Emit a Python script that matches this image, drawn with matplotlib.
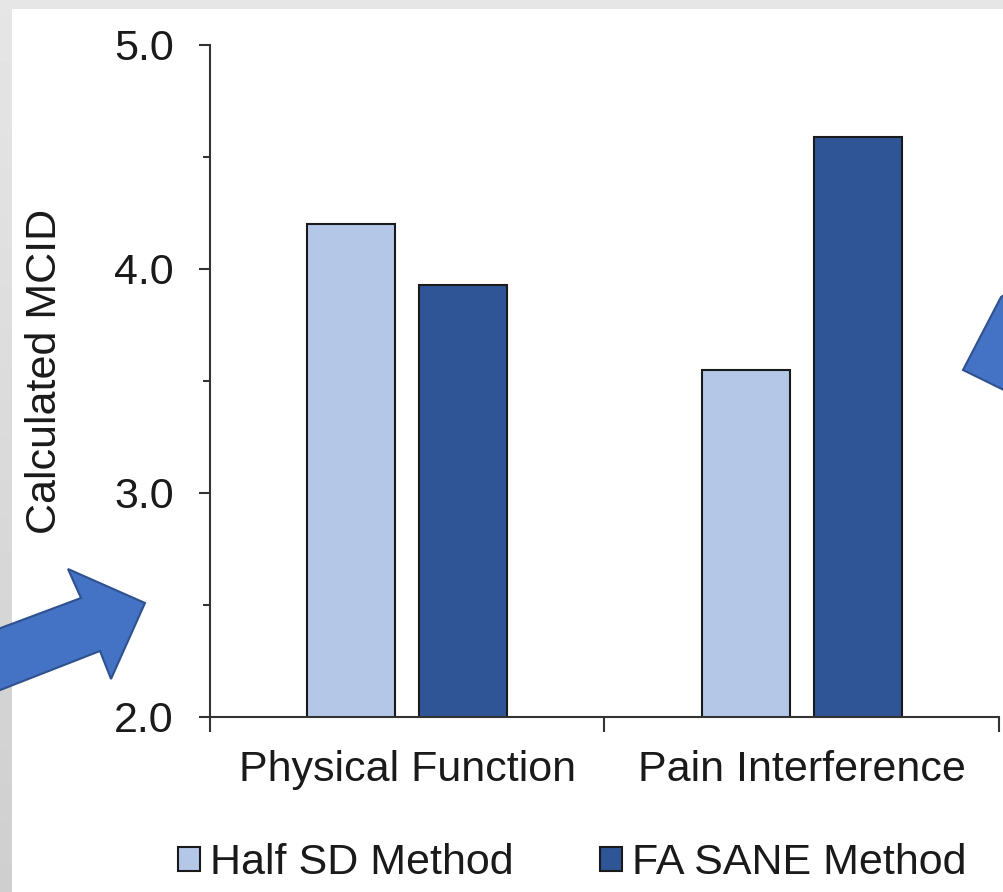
import numpy as np
import matplotlib
matplotlib.use("Agg")
import matplotlib.pyplot as plt
from matplotlib.patches import Polygon, Rectangle

plt.rcParams['font.family'] = ['Liberation Sans', 'DejaVu Sans']

# data
categories = ["Physical Function", "Pain Interference"]
series = ["Half SD Method", "FA SANE Method"]
half_sd = [4.20, 3.55]
fa_sane = [3.93, 4.59]
colors = ["#b4c7e7", "#2f5597"]

W, H = 1004, 892
FS = 31
fig = plt.figure(figsize=(W / 100, H / 100), dpi=100)
fig.patch.set_facecolor("#e6e6e6")

# white slide area + shaded left strip
fig.patches.append(Rectangle((12 / W, 0), 1 - 12 / W, 1 - 9 / H,
                             transform=fig.transFigure, facecolor="white",
                             edgecolor="none", zorder=0))
strip = fig.add_axes([0, 0, 12 / W, 1], zorder=0)
grad = np.linspace(0.90, 0.81, 100).reshape(-1, 1)
strip.imshow(grad, cmap="gray", vmin=0, vmax=1, aspect="auto")
strip.axis("off")

ax = fig.add_axes([210 / W, 175 / H, 789 / W, 672 / H], zorder=2)
ax.patch.set_alpha(0)

x = np.arange(len(categories)) + 0.5
off, bw = 0.142, 0.223
ax.bar(x - off, half_sd, bw, bottom=0, color=colors[0], edgecolor="#1a1a1a",
       linewidth=1.5, label=series[0])
ax.bar(x + off, fa_sane, bw, bottom=0, color=colors[1], edgecolor="#1a1a1a",
       linewidth=1.5, label=series[1])

ax.set_xlim(0, 2)
ax.set_ylim(2.0, 5.0)
ax.set_yticks([2.0, 3.0, 4.0, 5.0])
ax.set_yticklabels(["2.0", "3.0", "4.0", "5.0"])
ax.set_yticks([2.5, 3.5, 4.5], minor=True)
ax.set_xticks([0, 1, 2])
ax.set_xticklabels([])
ax.set_xticks(x, minor=True)
ax.set_xticklabels(categories, minor=True)

for s in ["top", "right"]:
    ax.spines[s].set_visible(False)
for s in ["left", "bottom"]:
    ax.spines[s].set_color("#333333")
    ax.spines[s].set_linewidth(1.5)

ax.tick_params(axis="y", which="major", length=8, width=1.5, color="#333333",
               labelsize=FS, pad=18, labelcolor="#1a1a1a")
ax.tick_params(axis="y", which="minor", length=5, width=1.5, color="#333333")
ax.tick_params(axis="x", which="major", length=11, width=1.5, color="#333333")
ax.tick_params(axis="x", which="minor", length=0, labelsize=FS, pad=24,
               labelcolor="#1a1a1a")

ax.set_ylabel("Calculated MCID", fontsize=FS, color="#1a1a1a")
ax.yaxis.set_label_coords(-145 / 789, (892 - 371 - 175) / 672)

leg = fig.legend(loc="center", bbox_to_anchor=(572 / W, 1 - 863 / H), ncol=2,
                 frameon=False, fontsize=FS, handlelength=0.51,
                 handleheight=0.47, handletextpad=0.24, columnspacing=2.0,
                 labelcolor="#1a1a1a")
for h in leg.legend_handles:
    h.set_linewidth(1.5)

# decorative arrows from the slide
ov = fig.add_axes([0, 0, 1, 1], zorder=3)
ov.set_xlim(0, W)
ov.set_ylim(H, 0)
ov.axis("off")
left_arrow = [(145, 603), (68, 569), (81, 598), (-10, 632), (-10, 694),
              (100, 651), (111, 679)]
right_arrow = [(1001, 297), (963, 370), (1012, 394), (1012, 290)]
for pts in (left_arrow, right_arrow):
    ov.add_patch(Polygon(pts, closed=True, facecolor="#4472c4",
                         edgecolor="#2f528f", linewidth=1.5, clip_on=False))

fig.savefig("out.png", dpi=100)
